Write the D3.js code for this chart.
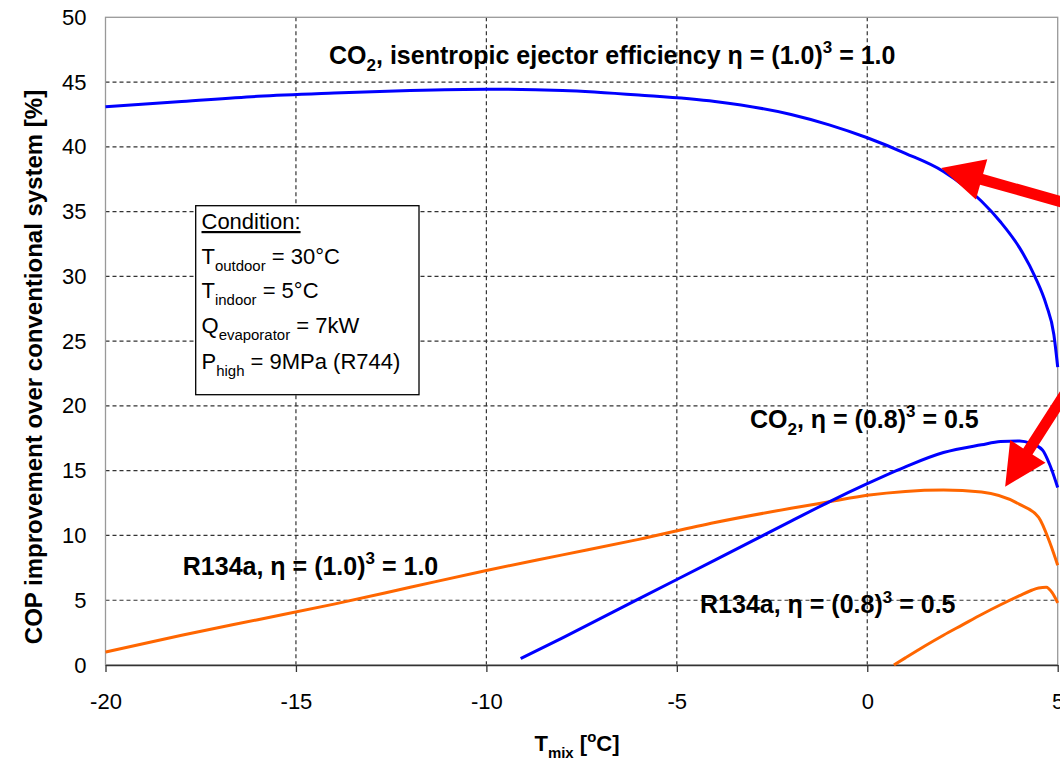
<!DOCTYPE html>
<html>
<head>
<meta charset="utf-8">
<script src="https://cdnjs.cloudflare.com/ajax/libs/d3/7.8.5/d3.min.js"></script>
<style>
body{margin:0;background:#fff}
svg{display:block}
text{font-family:"Liberation Sans",Arial,sans-serif;fill:#000}
</style>
</head>
<body>
<svg id="chart" width="1060" height="761"></svg>
<script>
// T_mix [°C] and COP improvement [%]
const co2IdealT   = [-20,-18,-16,-14,-12,-10,-8,-6,-4,-2,-1,0,1,2,3,3.5,4,4.4,4.7,4.9,5];
const co2IdealCop = [43.1,43.5,43.9,44.15,44.35,44.45,44.35,44.0,43.5,42.5,41.7,40.7,39.5,38.1,35.8,34.2,32.2,30.0,27.8,25.5,23.0];

const co2HalfT   = [-9.1,-8,-6,-4,-2,-1,0,1,2,3,3.5,4,4.3,4.6,4.8,5];
const co2HalfCop = [0.5,2.1,5.1,8.1,11.1,12.6,14.0,15.3,16.4,17.0,17.25,17.3,17.1,16.6,15.4,13.7];

const r134aIdealT   = [-20,-18,-16,-14,-12,-10,-8,-6,-4,-2,-1,0,1,2,3,4,4.5,4.8,5];
const r134aIdealCop = [1.0,2.3,3.5,4.7,6.0,7.3,8.5,9.7,11.0,12.1,12.6,13.1,13.4,13.5,13.35,12.4,11.4,9.4,7.7];

const r134aHalfT   = [0.7,1,1.5,2,2.5,3,3.5,4,4.3,4.5,4.7,4.85,5];
const r134aHalfCop = [0,0.55,1.45,2.3,3.1,3.9,4.65,5.35,5.75,5.95,6.0,5.6,4.8];

const tempTicks = [-20,-15,-10,-5,0,5];
const copTicks  = [0,5,10,15,20,25,30,35,40,45,50];

const blue = "#0000ff", orange = "#ff6600";

const svg = d3.select("#chart");
const plotL = 105.5, plotR = 1057.7, plotT = 17.3, plotB = 665;

const x = d3.scaleLinear().domain([-20, 5]).range([plotL, plotR]);
const y = d3.scaleLinear().domain([0, 50]).range([plotB, plotT]);

// grid
svg.append("g").selectAll("line").data(copTicks.filter(d => d > 0 && d < 50)).join("line")
    .attr("x1", plotL).attr("x2", plotR)
    .attr("y1", d => y(d)).attr("y2", d => y(d))
    .attr("stroke", "#333").attr("stroke-width", 1.2).attr("stroke-dasharray", "4,3");
svg.append("g").selectAll("line").data(tempTicks.filter(d => d > -20 && d < 5)).join("line")
    .attr("y1", plotT).attr("y2", plotB)
    .attr("x1", d => x(d)).attr("x2", d => x(d))
    .attr("stroke", "#333").attr("stroke-width", 1.2).attr("stroke-dasharray", "4,3");

// plot frame
svg.append("rect").attr("x", plotL).attr("y", plotT)
    .attr("width", plotR - plotL).attr("height", plotB - plotT)
    .attr("fill", "none").attr("stroke", "#999").attr("stroke-width", 1.3);

// axes
const xAxis = svg.append("g").attr("transform", "translate(0," + plotB + ")")
    .call(d3.axisBottom(x).tickValues(tempTicks).tickFormat(d => String(d))
        .tickSize(7).tickPadding(21).tickSizeOuter(0));
xAxis.select(".domain").attr("stroke", "#333").attr("stroke-width", 1.3);
xAxis.selectAll(".tick line").attr("stroke", "#333").attr("stroke-width", 1.3);
xAxis.selectAll("text").style("font-size", "22px").style("font-family", "Liberation Sans, Arial, sans-serif");

const yAxis = svg.append("g").attr("transform", "translate(" + plotL + ",0)")
    .call(d3.axisLeft(y).tickValues(copTicks).tickFormat(d => String(d)).tickSize(0).tickPadding(19));
yAxis.select(".domain").remove();
yAxis.selectAll("text").style("font-size", "22px").style("font-family", "Liberation Sans, Arial, sans-serif");

// text with sub / superscripts
function richText(parent, px, py, parts, size, weight) {
    const t = parent.append("text").attr("x", px).attr("y", py)
        .style("font-size", size + "px").style("font-weight", weight || "normal")
        .style("white-space", "pre");
    let shift = 0;
    parts.forEach(p => {
        const off = p[1] === "sub" ? size * 0.3 : p[1] === "sup" ? -size * 0.42 : 0;
        t.append("tspan").attr("dy", off - shift)
            .style("font-size", p[1] ? (size * 0.68) + "px" : null)
            .text(p[0]);
        shift = off;
    });
    return t;
}

// curves
const line = d3.line().x(d => x(d[0])).y(d => y(d[1])).curve(d3.curveMonotoneX);
const series = [
    {t: r134aIdealT, v: r134aIdealCop, c: orange},
    {t: r134aHalfT, v: r134aHalfCop, c: orange},
    {t: co2HalfT, v: co2HalfCop, c: blue},
    {t: co2IdealT, v: co2IdealCop, c: blue}
];
svg.append("g").selectAll("path").data(series).join("path")
    .attr("d", s => line(d3.zip(s.t, s.v)))
    .attr("fill", "none").attr("stroke", s => s.c).attr("stroke-width", 3);

// curve labels (start T, baseline COP)
const labels = [
    {at: [-14.13, 46.4], parts: [["CO"], ["2", "sub"], [", isentropic ejector efficiency η = (1.0)"], ["3", "sup"], [" = 1.0"]]},
    {at: [-3.08, 18.3], parts: [["CO"], ["2", "sub"], [", η = (0.8)"], ["3", "sup"], [" = 0.5"]]},
    {at: [-17.97, 6.95], parts: [["R134a, η = (1.0)"], ["3", "sup"], [" = 1.0"]]},
    {at: [-4.39, 4.0], parts: [["R134a, η = (0.8)"], ["3", "sup"], [" = 0.5"]]}
];
labels.forEach(l => richText(svg, x(l.at[0]), y(l.at[1]), l.parts, 25, "bold"));

// red arrows: [tail T, tail COP, tip T, tip COP]
const arrows = [[6.12, 34.9, 1.94, 38.37], [5.59, 22.77, 3.62, 13.76]];
function arrowPath(a) {
    const x0 = x(a[0]), y0 = y(a[1]), x1 = x(a[2]), y1 = y(a[3]);
    const len = Math.hypot(x1 - x0, y1 - y0), ux = (x1 - x0) / len, uy = (y1 - y0) / len;
    const nx = -uy, ny = ux, head = 42, hw = 21, sw = 5.5;
    const bx = x1 - ux * head, by = y1 - uy * head;
    const pts = [
        [x0 + nx * sw, y0 + ny * sw], [bx + nx * sw, by + ny * sw], [bx + nx * hw, by + ny * hw],
        [x1, y1],
        [bx - nx * hw, by - ny * hw], [bx - nx * sw, by - ny * sw], [x0 - nx * sw, y0 - ny * sw]
    ];
    return "M" + pts.map(p => p.join(",")).join("L") + "Z";
}
svg.append("g").selectAll("path").data(arrows).join("path")
    .attr("d", arrowPath).attr("fill", "#ff0000");

// condition box
const box = svg.append("g");
box.append("rect").attr("x", 195.7).attr("y", 205.7).attr("width", 223.3).attr("height", 189)
    .attr("fill", "#fff").attr("stroke", "#000").attr("stroke-width", 1.3);
const condLines = [
    [["Condition:"]],
    [["T"], ["outdoor", "sub"], [" = 30°C"]],
    [["T"], ["indoor", "sub"], [" = 5°C"]],
    [["Q"], ["evaporator", "sub"], [" = 7kW"]],
    [["P"], ["high", "sub"], [" = 9MPa (R744)"]]
];
const condBase = [229, 264, 298, 333, 369];
condLines.forEach((parts, i) => {
    const t = richText(box, 201.5, condBase[i], parts, 22, "normal");
    if (i === 0) t.style("text-decoration", "underline");
});

// axis titles
const xt = richText(svg, 577, 751, [["T"], ["mix", "sub"], [" ["], ["o", "sup"], ["C]"]], 22, "bold");
xt.attr("text-anchor", "middle");

svg.append("text")
    .attr("transform", "translate(42,367) rotate(-90)")
    .attr("text-anchor", "middle")
    .style("font-size", "24px").style("font-weight", "bold")
    .text("COP improvement over conventional system [%]");
</script>
</body>
</html>
